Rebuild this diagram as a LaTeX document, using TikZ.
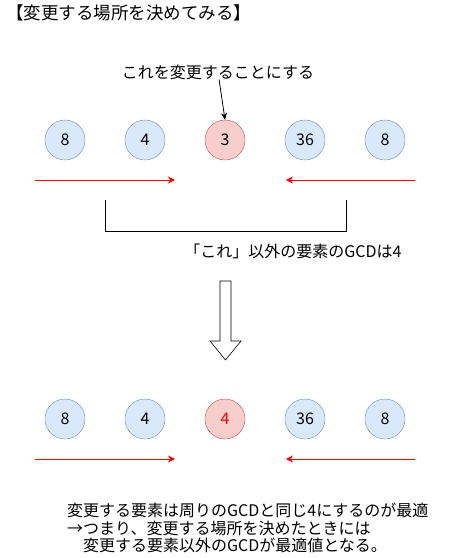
\documentclass[tikz,border=0pt]{standalone}
\usepackage{fontspec}
\setmainfont{Noto Sans CJK JP}
\usetikzlibrary{arrows.meta, positioning}

\definecolor{cellblue}{HTML}{DAE8FC}
\definecolor{lineblue}{HTML}{6C8EBF}
\definecolor{cellred}{HTML}{F8CECC}
\definecolor{linered}{HTML}{B85450}
\definecolor{arrowred}{HTML}{FF0000}

\begin{document}
\begin{tikzpicture}[
		x=1pt, y=-1pt,
		font=\fontsize{16}{18}\selectfont,
		num/.style={circle, draw=lineblue, fill=cellblue, minimum size=40pt, inner sep=0pt},
		pick/.style={num, draw=linered, fill=cellred},
		scan/.style={-{Stealth[length=7pt, width=7pt]}, draw=arrowred, line width=0.8pt},
		arrow/.style={-{Stealth[length=7pt, width=6pt]}, line width=0.8pt},
		txt/.style={inner sep=0pt, align=left}
		]
		\useasboundingbox (0,0) rectangle (451,558);
		
		% 1. Title
		\node[txt, anchor=west, font=\fontsize{17.5}{20}\selectfont] (title) at (6,13) {【変更する場所を決めてみる】};
		
		% 2. First row
		\foreach \v [count=\k] in {8,4,3,36,8} {
			\ifnum\k=3
			\node[pick] (a\k) at (-15+80*\k, 140) {\v};
			\else
			\node[num] (a\k) at (-15+80*\k, 140) {\v};
			\fi
		}
		\node[txt] (this) at (218,72) {これを変更することにする};
		\draw[arrow] (this) -- (a3.north);
		
		% scanning arrows
		\coordinate (l1s) at (35,180);
		\coordinate (l1e) at (175,180);
		\coordinate (r1s) at (415,180);
		\coordinate (r1e) at (286,180);
		\draw[scan] (l1s) -- (l1e);
		\draw[scan] (r1s) -- (r1e);
		
		% bracket
		\coordinate (bl) at (105,200);
		\coordinate (br) at (346,200);
		\draw[line width=0.8pt] (bl) -- (105,231) -- (346,231) -- (br);
		\node[txt] (rest) at (293,251) {「これ」以外の要素のGCDは4};
		
		% 3. Big arrow
		\draw[line width=0.6pt, fill=white] (220,281) -- (231,281) -- (231,341) -- (241,341)
		-- (225.5,360) -- (210,341) -- (220,341) -- cycle;
		
		% 4. Second row
		\foreach \v [count=\k] in {8,4,4,36,8} {
			\ifnum\k=3
			\node[pick, text=arrowred] (b\k) at (-15+80*\k, 419) {\v};
			\else
			\node[num] (b\k) at (-15+80*\k, 419) {\v};
			\fi
		}
		\coordinate (l2s) at (35,459);
		\coordinate (l2e) at (175,459);
		\coordinate (r2s) at (415,459);
		\coordinate (r2e) at (286,459);
		\draw[scan] (l2s) -- (l2e);
		\draw[scan] (r2s) -- (r2e);
		
		% 5. Conclusion
		\node[txt, anchor=north west, font=\fontsize{16}{17.6}\selectfont] (note) at (67,503) {変更する要素は周りのGCDと同じ4にするのが最適\\→つまり、変更する場所を決めたときには\\\hspace*{1em}変更する要素以外のGCDが最適値となる。};
	\end{tikzpicture}
\end{document}
